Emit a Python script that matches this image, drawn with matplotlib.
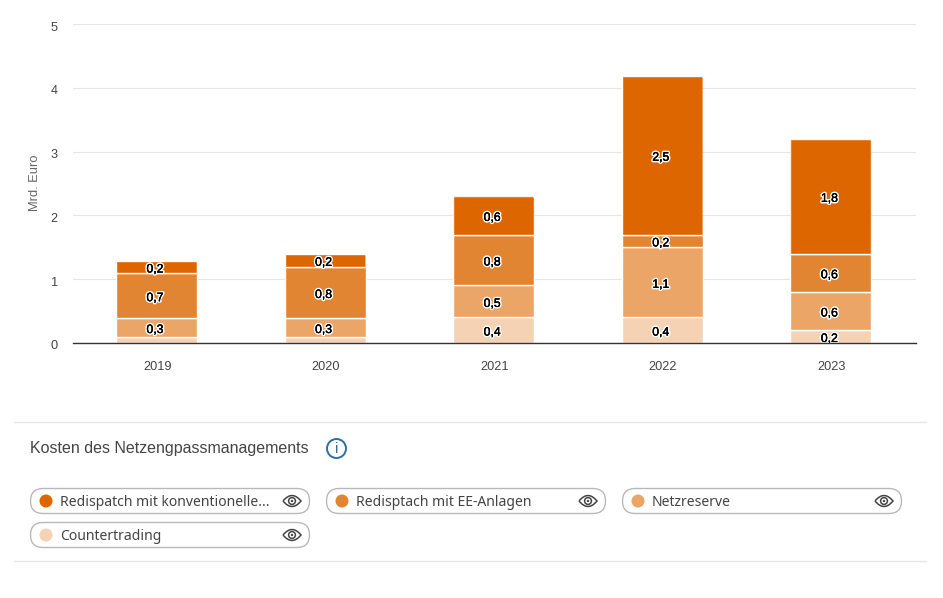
import matplotlib
matplotlib.use("Agg")
import matplotlib.pyplot as plt
import matplotlib.patheffects as pe
from matplotlib.patches import Circle, FancyBboxPatch, PathPatch
from matplotlib.path import Path
from matplotlib.transforms import IdentityTransform, ScaledTranslation

# Data
years = ["2019", "2020", "2021", "2022", "2023"]
countertrading = [0.09, 0.09, 0.4, 0.4, 0.2]
netzreserve = [0.3, 0.3, 0.5, 1.1, 0.6]
ee_anlagen = [0.7, 0.8, 0.8, 0.2, 0.6]
konventionell = [0.2, 0.21, 0.6, 2.49, 1.8]
y_ticks = [0, 1, 2, 3, 4, 5]

series_names = ["Countertrading", "Netzreserve", "Redisptach mit EE-Anlagen", "Redispatch mit konventionelle..."]
series_colors = ["#f5d2b3", "#eba566", "#e28533", "#dd6600"]

TEXT = "#444444"
GRID = "#e6e6e6"
W, H = 943, 598

plt.rcParams["font.family"] = ["Liberation Sans", "DejaVu Sans"]

fig = plt.figure(figsize=(W / 100, H / 100), dpi=100, facecolor="white")
ax = fig.add_axes([73 / W, (H - 342.8) / H, (916 - 73) / W, (342.8 - 24.3) / H])
ax.set_xlim(-0.495, 4.505)
ax.set_ylim(0, 5)

# stacked bars
bottom = [0.0] * len(years)
all_series = [countertrading, netzreserve, ee_anlagen, konventionell]
for values, name, color in zip(all_series, series_names, series_colors):
    bars = ax.bar(years, values, bottom=bottom, width=0.48, color=color, edgecolor="white",
                  linewidth=1, label=name, zorder=2)
    for i, v in enumerate(values):
        # the 0,1 segments have no label in the original
        if v < 0.15:
            continue
        ax.annotate(f"{v:.1f}".replace(".", ","), (i, bottom[i] + v / 2), xytext=(-1.5, -2.5),
                    textcoords="offset pixels", ha="center", va="center",
                    fontsize=8.8, color="black", zorder=4,
                    path_effects=[pe.withStroke(linewidth=2.4, foreground="white"),
                                  pe.Stroke(linewidth=0.2, foreground="black"), pe.Normal()])
    bottom = [b + v for b, v in zip(bottom, values)]

ax.set_xlim(-0.495, 4.505)
ax.set_ylim(0, 5)

# rounded top corners on the last stack
fig.canvas.draw()
for bar in bars:
    box = bar.get_window_extent()
    clip = FancyBboxPatch((box.x0, box.y0 - 6), box.width, box.height + 6,
                          boxstyle="round,pad=0,rounding_size=3", transform=IdentityTransform())
    bar.set_clip_path(clip)

ax.set_yticks(y_ticks)
ax.set_yticklabels([str(t) for t in y_ticks])
ax.tick_params(axis="both", length=0, labelsize=9.2, labelcolor=TEXT)
ax.tick_params(axis="x", pad=13)
ax.tick_params(axis="y", pad=11)
# tick labels sit a little under their grid lines in the original
for label in ax.get_yticklabels():
    label.set_transform(label.get_transform() + ScaledTranslation(0, -2 / 100, fig.dpi_scale_trans))
for label in ax.get_xticklabels():
    label.set_transform(label.get_transform() + ScaledTranslation(0.7 / 100, 0, fig.dpi_scale_trans))
ax.grid(axis="y", color=GRID, linewidth=0.8, zorder=0)
ax.set_axisbelow(True)
for side in ["top", "right", "left"]:
    ax.spines[side].set_visible(False)
ax.spines["bottom"].set_color("#333333")
ax.spines["bottom"].set_linewidth(1)
ax.spines["bottom"].set_zorder(5)
fig.text(34.5 / W, 1 - 183 / H, "Mrd. Euro", rotation=90, ha="center", va="center",
         fontsize=9.3, color="#666666")

# legend panel below the chart, in pixel coordinates
panel = fig.add_axes([0, 0, 1, 1], facecolor="none")
panel.set_xlim(0, W)
panel.set_ylim(H, 0)
panel.axis("off")

for y in [421.5, 560.5]:
    panel.plot([14, 926], [y, y], color=GRID, linewidth=1)

panel.text(30, 448, "Kosten des Netzengpassmanagements", fontsize=11.55, color=TEXT, va="center")
panel.add_patch(Circle((336.5, 448.5), 9.5, fill=False, edgecolor="#2f6f9f", linewidth=1.4))
panel.text(336.5, 449, "i", fontsize=11, color="#2f6f9f", ha="center", va="center")

EYE = Path([(-9, 0), (0, -11), (9, 0), (0, 11), (-9, 0)],
           [Path.MOVETO, Path.CURVE3, Path.CURVE3, Path.CURVE3, Path.CURVE3])


def draw_chip(x0, y0, name, color):
    panel.add_patch(FancyBboxPatch((x0 + 0.5, y0 + 0.5), 279, 25, boxstyle="round,pad=0,rounding_size=12.5",
                                   fc="white", ec="#b9b9b9", lw=1))
    panel.add_patch(Circle((x0 + 16, y0 + 13), 6.5, fc=color, ec="none"))
    panel.text(x0 + 30, y0 + 15, name, fontsize=10.05, color=TEXT, va="center", family="Noto Sans")
    # eye icon
    cx, cy = x0 + 262, y0 + 13
    panel.add_patch(PathPatch(Path(EYE.vertices + (cx, cy), EYE.codes), fc="none", ec="#444444", lw=1.1))
    panel.add_patch(Circle((cx, cy), 3.4, fc="none", ec="#444444", lw=1.1))
    panel.add_patch(Circle((cx, cy), 1.2, fc="#444444", ec="none"))


draw_chip(30, 488, series_names[3], series_colors[3])
draw_chip(326, 488, series_names[2], series_colors[2])
draw_chip(622, 488, series_names[1], series_colors[1])
draw_chip(30, 522, series_names[0], series_colors[0])

fig.savefig("out.png", dpi=100)
